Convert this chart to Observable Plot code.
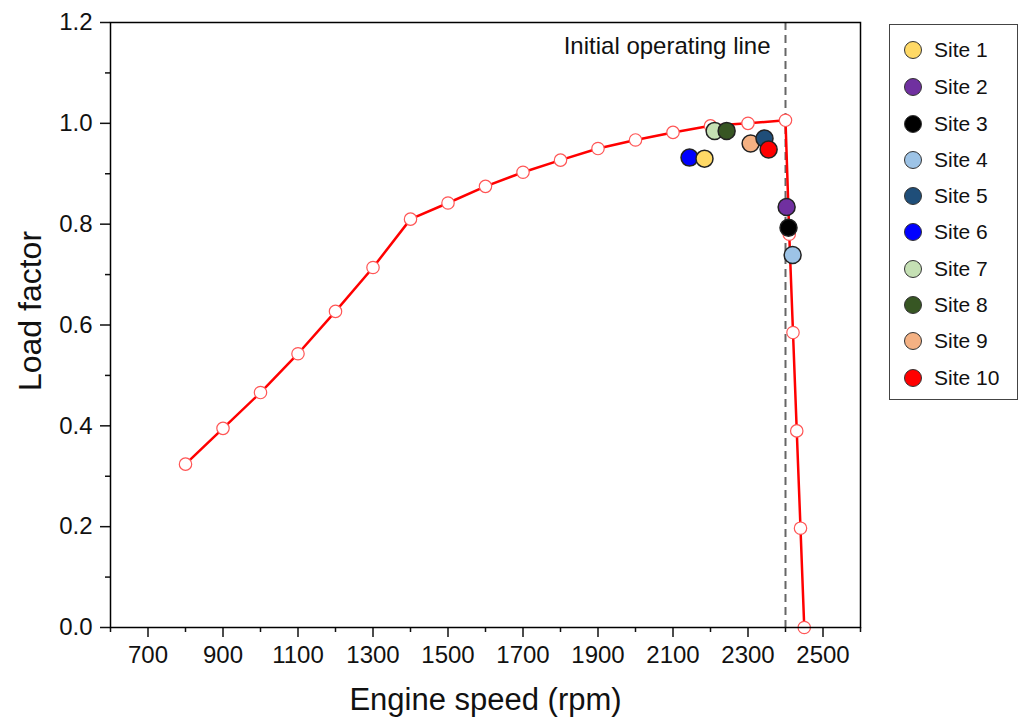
<!DOCTYPE html>
<html>
<head>
<meta charset="utf-8">
<script src="https://cdn.jsdelivr.net/npm/d3@7"></script>
<script src="https://cdn.jsdelivr.net/npm/@observablehq/plot@0.6"></script>
<style>
  html, body { margin: 0; padding: 0; background: #fff; }
  #wrap { position: relative; width: 1025px; height: 720px; font-family: "Liberation Sans", Arial, sans-serif; }
  #wrap svg g[aria-label="x-axis tick label"], #wrap svg g[aria-label="y-axis tick label"] { font-size: 24px !important; }
  #wrap svg g[aria-label="x-axis tick label"] text, #wrap svg g[aria-label="y-axis tick label"] text { font-size: 24px !important; }
  #legend { position: absolute; left: 889px; top: 24px; width: 129px; height: 376px; border: 1.5px solid #444; box-sizing: border-box; background: #fff; }
  .item { position: absolute; left: 0; height: 24px; display: flex; align-items: center; }
  .item .dot { width: 18px; height: 18px; border-radius: 50%; border: 1.5px solid #333; box-sizing: border-box; margin-left: 14px; margin-right: 12px; }
  .item span { font-size: 21px; color: #111; }
</style>
</head>
<body>
<div id="wrap"><div id="legend"></div></div>
<script>
// Operating curve (engine speed in rpm, load factor)
const curveSpeed = [800, 900, 1000, 1100, 1200, 1300, 1400, 1500, 1600, 1700, 1800, 1900, 2000, 2100, 2200, 2300, 2400, 2410, 2420, 2430, 2440, 2450];
const curveLoad  = [0.324, 0.395, 0.466, 0.543, 0.627, 0.714, 0.81, 0.842, 0.875, 0.903, 0.927, 0.95, 0.967, 0.982, 0.995, 1.0, 1.006, 0.78, 0.585, 0.39, 0.197, 0.0];

// Sites
const siteNames  = ["Site 1", "Site 2", "Site 3", "Site 4", "Site 5", "Site 6", "Site 7", "Site 8", "Site 9", "Site 10"];
const siteSpeed  = [2184, 2403, 2408, 2419, 2344, 2144, 2211, 2243, 2307, 2355];
const siteLoad   = [0.930, 0.834, 0.793, 0.739, 0.970, 0.932, 0.985, 0.985, 0.960, 0.948];
const siteColors = ["#FFD966", "#7030A0", "#000000", "#9DC3E6", "#1F4E79", "#0000FF", "#C5E0B4", "#375623", "#F4B183", "#FF0000"];

// Axis ticks
const xTicks = [700, 900, 1100, 1300, 1500, 1700, 1900, 2100, 2300, 2500];
const xMinor = [600, 800, 1000, 1200, 1400, 1600, 1800, 2000, 2200, 2400, 2600];
const yTicks = [0, 0.2, 0.4, 0.6, 0.8, 1.0, 1.2];
const yMinor = [0.1, 0.3, 0.5, 0.7, 0.9, 1.1];

const operatingLine = 2400;
const operatingLabel = "Initial operating line";

const curve = curveSpeed.map((s, i) => ({speed: s, load: curveLoad[i]}));
const sites = siteNames.map((n, i) => ({name: n, speed: siteSpeed[i], load: siteLoad[i], color: siteColors[i]}));
// draw order so overlaps look like the reference
const drawOrder = ["Site 6", "Site 1", "Site 7", "Site 8", "Site 9", "Site 5", "Site 10", "Site 2", "Site 3", "Site 4"];
const sitesDraw = drawOrder.map(n => sites.find(s => s.name === n));

const font = "Liberation Sans, Arial, sans-serif";

const chart = Plot.plot({
  width: 1025,
  height: 720,
  marginLeft: 110,
  marginRight: 165,
  marginTop: 22,
  marginBottom: 93,
  style: {fontFamily: font, background: "#fff", color: "#111", fontSize: "24px"},
  x: {domain: [600, 2600]},
  y: {domain: [0, 1.2]},
  marks: [
    Plot.ruleX([operatingLine], {stroke: "#666", strokeWidth: 2, strokeDasharray: "8,5"}),
    Plot.text([{x: operatingLine, y: 1.152, t: operatingLabel}], {x: "x", y: "y", text: "t", textAnchor: "end", dx: -15, fontSize: 24, fill: "#111"}),
    Plot.line(curve, {x: "speed", y: "load", stroke: "#FF0000", strokeWidth: 2.5}),
    Plot.dot(curve, {x: "speed", y: "load", r: 6.2, fill: "white", stroke: "#FF5555", strokeWidth: 1.2}),
    Plot.dot(sitesDraw, {x: "speed", y: "load", r: 8.5, fill: "color", stroke: "#222", strokeWidth: 1.5}),
    Plot.axisX({ticks: xTicks, tickSize: 10, tickPadding: 8, tickFormat: d => String(d), fontSize: 24, label: null, strokeWidth: 1.5}),
    Plot.axisX({ticks: xMinor, tickSize: 5, tickFormat: () => "", label: null, strokeWidth: 1.5}),
    Plot.axisY({ticks: yTicks, tickSize: 10, tickPadding: 8, tickFormat: d => d.toFixed(1), fontSize: 24, label: null, strokeWidth: 1.5}),
    Plot.axisY({ticks: yMinor, tickSize: 5, tickFormat: () => "", label: null, strokeWidth: 1.5}),
    Plot.frame({stroke: "#000", strokeWidth: 1.5}),
    Plot.text(["Engine speed (rpm)"], {frameAnchor: "bottom", lineAnchor: "middle", dy: 73, fontSize: 31, fill: "#111"}),
    Plot.text(["Load factor"], {frameAnchor: "left", textAnchor: "middle", lineAnchor: "middle", rotate: -90, dx: -80, dy: -14, fontSize: 32, fill: "#111"})
  ]
});
document.getElementById("wrap").prepend(chart);

const legend = document.getElementById("legend");
const legendY = [49, 86, 123, 159, 195, 231, 268, 304, 340, 377];
siteNames.forEach((n, i) => {
  const it = document.createElement("div");
  it.className = "item";
  it.style.top = (legendY[i] - 24 - 12) + "px";
  const dot = document.createElement("div");
  dot.className = "dot";
  dot.style.background = siteColors[i];
  const sp = document.createElement("span");
  sp.textContent = n;
  it.appendChild(dot);
  it.appendChild(sp);
  legend.appendChild(it);
});
</script>
</body>
</html>
